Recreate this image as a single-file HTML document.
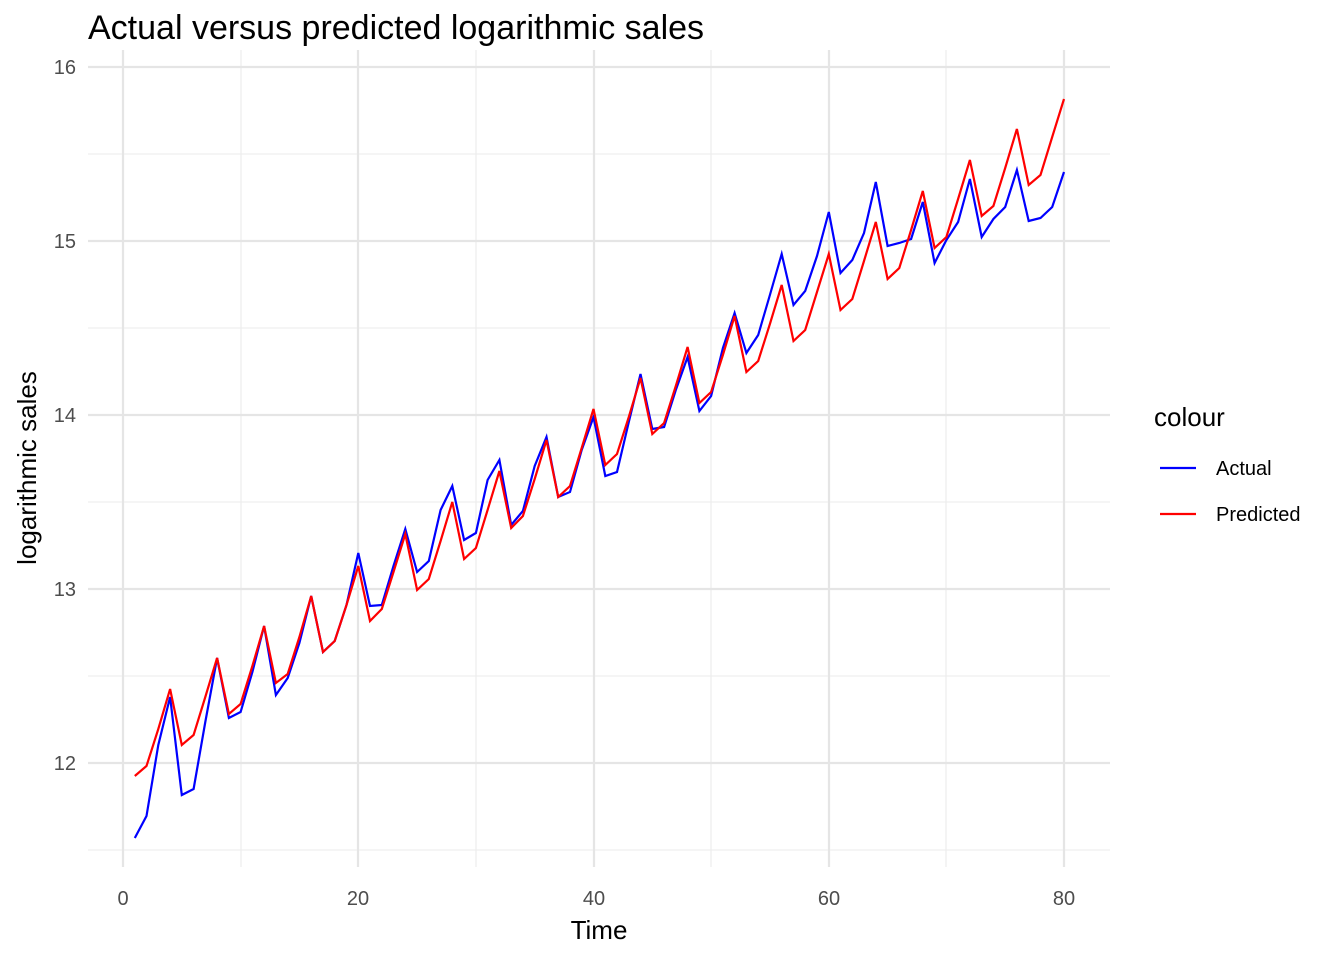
<!DOCTYPE html>
<html><head><meta charset="utf-8"><style>body{margin:0;background:#fff}svg{display:block}text{font-family:"Liberation Sans",Arial,sans-serif}</style></head>
<body>
<svg width="1344" height="960" xmlns="http://www.w3.org/2000/svg">
<rect width="1344" height="960" fill="#fff"/>
<g stroke="#ebebeb" stroke-width="1.1">
<line x1="88" x2="1110" y1="154" y2="154"/><line x1="88" x2="1110" y1="328" y2="328"/><line x1="88" x2="1110" y1="502" y2="502"/><line x1="88" x2="1110" y1="676" y2="676"/><line x1="88" x2="1110" y1="850" y2="850"/>
<line y1="50" y2="867" x1="241" x2="241"/><line y1="50" y2="867" x1="476" x2="476"/><line y1="50" y2="867" x1="711" x2="711"/><line y1="50" y2="867" x1="946" x2="946"/>
</g>
<g stroke="#e5e5e5" stroke-width="2.2">
<line x1="88" x2="1110" y1="67" y2="67"/><line x1="88" x2="1110" y1="241" y2="241"/><line x1="88" x2="1110" y1="415" y2="415"/><line x1="88" x2="1110" y1="589" y2="589"/><line x1="88" x2="1110" y1="763" y2="763"/>
<line y1="50" y2="867" x1="123" x2="123"/><line y1="50" y2="867" x1="358" x2="358"/><line y1="50" y2="867" x1="594" x2="594"/><line y1="50" y2="867" x1="829" x2="829"/><line y1="50" y2="867" x1="1064" x2="1064"/>
</g>
<g id="lines" fill="none" stroke-width="2.2"></g>
<g font-size="20" fill="#4d4d4d" text-anchor="end">
<text x="76" y="74">16</text><text x="76" y="248">15</text><text x="76" y="422">14</text><text x="76" y="596">13</text><text x="76" y="770">12</text>
</g>
<g font-size="20" fill="#4d4d4d" text-anchor="middle">
<text x="123" y="905">0</text><text x="358" y="905">20</text><text x="594" y="905">40</text><text x="829" y="905">60</text><text x="1064" y="905">80</text>
</g>
<text x="599" y="939" font-size="26" text-anchor="middle">Time</text>
<text transform="translate(36,468) rotate(-90)" font-size="26" text-anchor="middle">logarithmic sales</text>
<text x="88" y="39" font-size="34">Actual versus predicted logarithmic sales</text>
<text x="1154" y="426" font-size="26">colour</text>
<line x1="1160" x2="1196" y1="468" y2="468" stroke="#0000ff" stroke-width="2.2"/>
<line x1="1160" x2="1196" y1="514" y2="514" stroke="#ff0000" stroke-width="2.2"/>
<text x="1216" y="475" font-size="20">Actual</text>
<text x="1216" y="521" font-size="20">Predicted</text>
</svg>
<script>
var a=[838,816,745,697,795,789,722,658,718,712,672,626,695,678,643,596,652,641,605,553,606,605,566,529,572,561,510,486,540,533,480,460,525,511,466,437,497,492,450,417,476,472,422,374,429,427,390,357,411,396,348,313,353,335,295,254,305,291,256,212,273,260,233,182,246,243,239,202,263,240,222,179,237,219,207,170,221,218,207,172];
var p=[776,766,729,689,745,735,697,658,714,704,666,626,683,674,637,596,652,641,605,566,621,609,572,534,590,579,541,502,559,548,510,471,528,516,479,440,497,486,448,409,465,454,417,378,434,423,386,347,403,392,355,316,372,361,324,285,341,330,292,254,310,299,261,222,279,268,230,191,248,237,199,160,216,206,168,129,185,175,137,99];
function pts(d){return d.map(function(y,i){return (123+11.7625*(i+1)).toFixed(1)+','+y}).join(' ')}
var g=document.getElementById('lines');
g.innerHTML='<polyline stroke="#0000ff" points="'+pts(a)+'"/><polyline stroke="#ff0000" points="'+pts(p)+'"/>';
</script>
</body></html>
